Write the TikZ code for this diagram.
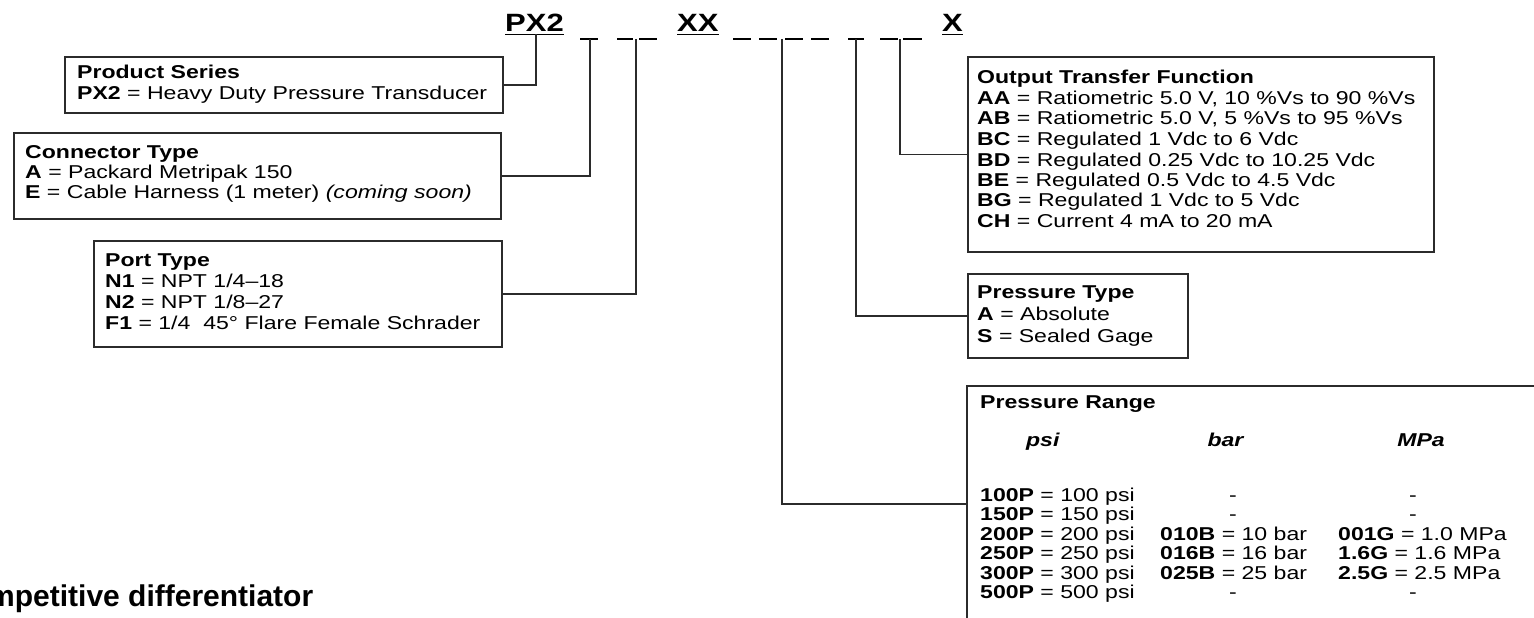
\documentclass[tikz,border=0pt]{standalone}
\usepackage{fontspec}
\setmainfont{Liberation Sans}[FakeStretch=1.24]
\newfontfamily\bottomfont{Liberation Sans}
\newcommand{\boxlines}[1]{\begin{tabular}[t]{@{}l@{}}#1\end{tabular}}
\definecolor{linec}{HTML}{2B2B2B}
\begin{document}
\begin{tikzpicture}[x=1pt,y=-1pt,
  boxnode/.style={draw=linec, line width=1.8pt, rectangle, anchor=north west, inner sep=0pt},
  txt/.style={anchor=base west, inner sep=0pt, font=\fontsize{18.6}{21}\selectfont},
  ctxt/.style={anchor=base, inner sep=0pt, font=\fontsize{18.6}{21}\selectfont},
  conn/.style={draw=linec, line width=1.6pt},
  codetxt/.style={anchor=base west, inner sep=0pt, font=\fontsize{25}{30}\selectfont\bfseries},
  uline/.style={draw=black, line width=1.8pt},
  dashseg/.style={draw=black, line width=1.8pt}]
\useasboundingbox (0,0) rectangle (1534,618);
\fill[white] (0,0) rectangle (1534,618);
\clip (0,0) rectangle (1534,618);

% ---- order code ----
\node[codetxt] (px2) at (505,32) {PX2};
\node[codetxt] (xx) at (677,32) {XX};
\node[codetxt] (xo) at (942,32) {X};
\foreach \n in {px2,xx,xo}
  \draw[uline] ([yshift=-2.5pt]\n.base west) -- ([yshift=-2.5pt]\n.base east);
\foreach \a/\b in {580/598, 617/633, 639/657, 733/751, 759/777, 785/803, 811/829, 848/864, 880/898, 903/922}
  \draw[dashseg] (\a,39) -- (\b,39);
\coordinate (k1) at (536,34.5);
\coordinate (k2) at (590,39);
\coordinate (k3) at (636,39);
\coordinate (k4) at (782,39);
\coordinate (k5) at (856,39);
\coordinate (k6) at (900,39);

% ---- boxes ----
\node[boxnode, minimum width=438pt, minimum height=56pt] (ps) at (64,56) {};
\node[boxnode, minimum width=487pt, minimum height=86pt] (ct) at (13,132) {};
\node[boxnode, minimum width=408pt, minimum height=106pt] (pt) at (93,240) {};
\node[boxnode, minimum width=466pt, minimum height=195pt] (otf) at (967,56) {};
\node[boxnode, minimum width=220pt, minimum height=84pt] (ptype) at (967,273) {};
\node[boxnode, minimum width=574pt, minimum height=236pt] (prange) at (966,385) {};

% ---- box texts ----
\node[txt] (pst) at (77,78.5) {\boxlines{\textbf{Product Series}\\
  \textbf{PX2} = Heavy Duty Pressure Transducer}};
\node[txt, font=\fontsize{18.6}{20}\selectfont] (ctt) at (25,158.5) {\boxlines{\textbf{Connector Type}\\
  \textbf{A} = Packard Metripak 150\\
  \textbf{E} = Cable Harness (1 meter) \textit{(coming soon)}}};
\node[txt] (ptt) at (105,266.5) {\boxlines{\textbf{Port Type}\\
  \textbf{N1} = NPT 1/4–18\\
  \textbf{N2} = NPT 1/8–27\\
  \textbf{F1} = 1/4\ \ 45° Flare Female Schrader}};
\node[txt, font=\fontsize{18.6}{20.5}\selectfont] (otft) at (977,84) {\boxlines{\textbf{Output Transfer Function}\\
  \textbf{AA} = Ratiometric 5.0 V, 10 \%Vs to 90 \%Vs\\
  \textbf{AB} = Ratiometric 5.0 V, 5 \%Vs to 95 \%Vs\\
  \textbf{BC} = Regulated 1 Vdc to 6 Vdc\\
  \textbf{BD} = Regulated 0.25 Vdc to 10.25 Vdc\\
  \textbf{BE} = Regulated 0.5 Vdc to 4.5 Vdc\\
  \textbf{BG} = Regulated 1 Vdc to 5 Vdc\\
  \textbf{CH} = Current 4 mA to 20 mA}};
\node[txt, font=\fontsize{18.6}{22}\selectfont] (ptypet) at (977,298.5) {\boxlines{\textbf{Pressure Type}\\
  \textbf{A} = Absolute\\
  \textbf{S} = Sealed Gage}};

% ---- pressure range table ----
\node[txt] (prt) at (980,408.5) {\textbf{Pressure Range}};
\node[ctxt] (hpsi) at (1043,446.5) {\textbf{\textit{psi}}};
\node[ctxt] (hbar) at (1226,446.5) {\textbf{\textit{bar}}};
\node[ctxt] (hmpa) at (1421,446.5) {\textbf{\textit{MPa}}};
\foreach \i/\v in {0/100, 1/150, 2/200, 3/250, 4/300, 5/500}
  \node[txt] (psi\i) at (980,{501.5+19.4*\i}) {\textbf{\v P} = \v\ psi};
\foreach \i/\v in {2/10, 3/16, 4/25}
  \node[txt] (bar\i) at (1160,{501.5+19.4*\i}) {\textbf{0\v B} = \v\ bar};
\foreach \i in {0,1,5} {
  \node[ctxt] (bard\i) at (1233,{501.5+19.4*\i}) {-};
  \node[ctxt] (mpad\i) at (1413,{501.5+19.4*\i}) {-};
}
\node[txt] (mpa2) at (1338,{501.5+19.4*2}) {\textbf{001G} = 1.0 MPa};
\node[txt] (mpa3) at (1338,{501.5+19.4*3}) {\textbf{1.6G} = 1.6 MPa};
\node[txt] (mpa4) at (1338,{501.5+19.4*4}) {\textbf{2.5G} = 2.5 MPa};

% ---- connectors ----
\draw[conn] (k1) |- (ps.east);
\draw[conn] (k2) |- (ct.east);
\draw[conn] (k3) |- (pt.east);
\draw[conn] (k4) |- (prange.west);
\draw[conn] (k5) |- (ptype.west);
\draw[conn] (k6) |- (otf.west);

% ---- cut-off heading at the bottom ----
\node[anchor=base west, inner sep=0pt, font=\bottomfont\fontsize{30}{34}\selectfont\bfseries] (comp) at (-52,606) {Competitive differentiator};
\end{tikzpicture}
\end{document}
